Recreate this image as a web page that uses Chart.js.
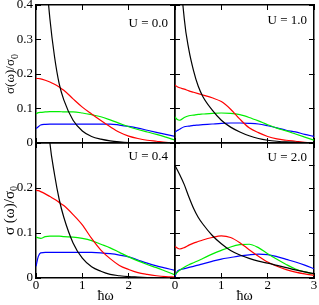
<!DOCTYPE html>
<html>
<head>
<meta charset="utf-8">
<script src="https://cdn.jsdelivr.net/npm/chart.js@4.4.0/dist/chart.umd.min.js"></script>
<style>
  body { margin: 0; background: #fff; }
  canvas { position: absolute; left: 0; top: 0; }
</style>
</head>
<body>
<canvas id="p00" width="319" height="305"></canvas>
<canvas id="p10" width="319" height="305"></canvas>
<canvas id="p04" width="319" height="305"></canvas>
<canvas id="p20" width="319" height="305"></canvas>
<script>
// photon energy grid (same for all panels)
const xs = [0, 0.05, 0.1, 0.2, 0.3, 0.4, 0.5, 0.6, 0.8, 1.0, 1.2, 1.4, 1.6, 1.8, 2.0, 2.2, 2.4, 2.6, 2.8, 3.0];

// U = 0.0
const black00 = [1.0, 0.85, 0.72, 0.52, 0.36, 0.25, 0.172, 0.125, 0.066, 0.035, 0.019, 0.011, 0.006, 0.003, 0.001, 0, 0, 0, 0, 0];
const red00   = [0.187, 0.187, 0.186, 0.182, 0.177, 0.170, 0.162, 0.153, 0.128, 0.104, 0.084, 0.065, 0.047, 0.031, 0.020, 0.013, 0.008, 0.005, 0.002, 0.001];
const green00 = [0.084, 0.088, 0.089, 0.090, 0.091, 0.091, 0.091, 0.090, 0.090, 0.087, 0.082, 0.076, 0.067, 0.057, 0.047, 0.039, 0.032, 0.025, 0.017, 0.008];
const blue00  = [0.042, 0.047, 0.052, 0.054, 0.055, 0.055, 0.055, 0.055, 0.055, 0.055, 0.055, 0.055, 0.055, 0.052, 0.048, 0.043, 0.037, 0.031, 0.025, 0.019];

// U = 1.0
const black10 = [1.5, 0.8, 0.55, 0.36, 0.27, 0.21, 0.165, 0.135, 0.096, 0.066, 0.046, 0.032, 0.021, 0.013, 0.008, 0.005, 0.003, 0.002, 0.001, 0];
const red10   = [0.168, 0.163, 0.160, 0.156, 0.151, 0.147, 0.143, 0.139, 0.131, 0.120, 0.098, 0.069, 0.044, 0.030, 0.019, 0.012, 0.008, 0.005, 0.002, 0.001];
const green10 = [0.076, 0.068, 0.066, 0.074, 0.079, 0.081, 0.083, 0.084, 0.086, 0.087, 0.086, 0.082, 0.074, 0.064, 0.053, 0.043, 0.035, 0.026, 0.017, 0.008];
const blue10  = [0.032, 0.036, 0.040, 0.047, 0.049, 0.051, 0.052, 0.053, 0.055, 0.057, 0.058, 0.058, 0.057, 0.055, 0.050, 0.044, 0.037, 0.032, 0.025, 0.019];

// U = 0.4
const black04 = [1.0, 0.8, 0.62, 0.43, 0.30, 0.23, 0.175, 0.135, 0.078, 0.044, 0.025, 0.015, 0.008, 0.005, 0.003, 0.002, 0.001, 0, 0, 0];
const red04   = [0.195, 0.194, 0.192, 0.187, 0.181, 0.175, 0.168, 0.161, 0.141, 0.118, 0.088, 0.062, 0.043, 0.028, 0.019, 0.012, 0.008, 0.005, 0.003, 0.002];
const green04 = [0.091, 0.089, 0.088, 0.092, 0.093, 0.093, 0.093, 0.092, 0.091, 0.088, 0.083, 0.075, 0.067, 0.057, 0.047, 0.038, 0.030, 0.023, 0.015, 0.007];
const blue04  = [0.026, 0.048, 0.056, 0.057, 0.057, 0.057, 0.057, 0.057, 0.057, 0.057, 0.057, 0.056, 0.054, 0.051, 0.047, 0.040, 0.033, 0.027, 0.022, 0.017];

// U = 2.0
const black20 = [0.50, 0.48, 0.46, 0.415, 0.36, 0.31, 0.27, 0.24, 0.19, 0.152, 0.122, 0.102, 0.087, 0.075, 0.066, 0.056, 0.046, 0.036, 0.027, 0.019];
const red20   = [0.140, 0.133, 0.129, 0.135, 0.146, 0.155, 0.162, 0.169, 0.180, 0.187, 0.180, 0.157, 0.126, 0.097, 0.071, 0.052, 0.037, 0.026, 0.018, 0.012];
const green20 = [0.015, 0.025, 0.034, 0.048, 0.059, 0.068, 0.077, 0.087, 0.106, 0.123, 0.138, 0.148, 0.150, 0.135, 0.108, 0.083, 0.060, 0.040, 0.027, 0.018];
const blue20  = [0.007, 0.030, 0.036, 0.042, 0.047, 0.052, 0.057, 0.063, 0.074, 0.084, 0.091, 0.098, 0.103, 0.106, 0.104, 0.095, 0.083, 0.071, 0.057, 0.041];

Chart.defaults.font.family = "'Liberation Serif', 'Times New Roman', serif";
Chart.defaults.color = '#000';

const W = 319, H = 305;
const colors = ['#000000', '#ff0000', '#00ee00', '#0000ff'];

const panelText = {
  id: 'panelText',
  afterDraw(chart, args, o) {
    const ctx = chart.ctx, a = chart.chartArea;
    ctx.save();
    ctx.fillStyle = '#000';
    ctx.font = "13px 'Liberation Serif'";
    ctx.textAlign = 'right';
    ctx.textBaseline = 'alphabetic';
    ctx.fillText(o.label, a.right - 7, a.top + o.labelDy);
    if (o.ytitle) {
      ctx.translate(o.titleX, (a.top + a.bottom) / 2);
      ctx.rotate(-Math.PI / 2);
      ctx.font = o.titleFont;
      const sub = "10px 'Liberation Serif'";
      const w1 = ctx.measureText(o.ytitle).width;
      ctx.font = sub;
      const w2 = ctx.measureText('0').width;
      let x0 = -(w1 + w2) / 2;
      ctx.textAlign = 'left';
      ctx.textBaseline = 'middle';
      ctx.font = o.titleFont;
      ctx.fillText(o.ytitle, x0, 0);
      ctx.font = sub;
      ctx.fillText('0', x0 + w1, 4);
    }
    ctx.restore();
  }
};

function makePanel(id, box, ymax, data, opts) {
  const sets = data.map((ys, i) => ({
    data: xs.map((x, j) => ({ x: x, y: ys[j] })),
    borderColor: colors[i],
    borderWidth: 1.2,
    pointRadius: 0,
    cubicInterpolationMode: 'monotone',
    fill: false
  }));
  const grid = { drawOnChartArea: false, tickLength: -5, color: '#000', lineWidth: 1 };
  const border = { color: '#000', width: 1.5 };
  const size = v => s => { if (s.isHorizontal()) s.height = v; else s.width = v; s.paddingTop = 0; s.paddingBottom = 0; s.paddingLeft = 0; s.paddingRight = 0; };
  new Chart(document.getElementById(id), {
    type: 'line',
    data: { datasets: sets },
    options: {
      responsive: false,
      animation: false,
      events: [],
      layout: { padding: { left: box.left - box.yw, top: box.top, right: W - box.right, bottom: H - box.bottom - box.xh } },
      plugins: { legend: { display: false }, tooltip: { enabled: false }, panelText: opts },
      scales: {
        x: {
          type: 'linear', position: 'bottom', min: 0, max: 3,
          ticks: { stepSize: 1, display: box.xh > 0, padding: 5, font: { size: 13 },
                   callback: v => (opts.hideX === v ? '' : String(v)) },
          grid: grid, border: border,
          title: { display: box.xh > 0, text: 'ħω', font: { size: 14 }, padding: { top: 0, bottom: 0 } },
          afterFit: size(box.xh)
        },
        x2: {
          type: 'linear', position: 'top', min: 0, max: 3,
          ticks: { stepSize: 1, display: false }, grid: grid, border: border,
          afterFit: size(0)
        },
        y: {
          type: 'linear', position: 'left', min: 0, max: ymax,
          ticks: { stepSize: 0.1, display: box.yw > 0, padding: 8, font: { size: 13 },
                   callback: v => (opts.hideY !== undefined && Math.abs(opts.hideY - v) < 1e-6 ? '' : String(Math.round(v * 10) / 10)) },
          grid: grid, border: border,
          afterFit: size(box.yw)
        },
        y2: {
          type: 'linear', position: 'right', min: 0, max: ymax,
          ticks: { stepSize: 0.1, display: false }, grid: grid, border: border,
          afterFit: size(0)
        }
      }
    },
    plugins: [panelText]
  });
}

makePanel('p00', { left: 36, right: 175, top: 5, bottom: 143, yw: 36, xh: 0 }, 0.4,
  [black00, red00, green00, blue00],
  { label: 'U = 0.0', labelDy: 22, ytitle: 'σ(ω)/σ', titleFont: "13px 'Liberation Serif'", titleX: 11 });
makePanel('p10', { left: 175, right: 314, top: 5, bottom: 143, yw: 0, xh: 0 }, 0.4,
  [black10, red10, green10, blue10],
  { label: 'U = 1.0', labelDy: 19 });
makePanel('p04', { left: 36, right: 175, top: 143, bottom: 278, yw: 36, xh: 27 }, 0.3,
  [black04, red04, green04, blue04],
  { label: 'U = 0.4', labelDy: 17, hideX: 3, hideY: 0.3, ytitle: 'σ (ω)/σ', titleFont: "15px 'Liberation Serif'", titleX: 10 });
makePanel('p20', { left: 175, right: 314, top: 143, bottom: 278, yw: 0, xh: 27 }, 0.6,
  [black20, red20, green20, blue20],
  { label: 'U = 2.0', labelDy: 18 });
</script>
</body>
</html>
